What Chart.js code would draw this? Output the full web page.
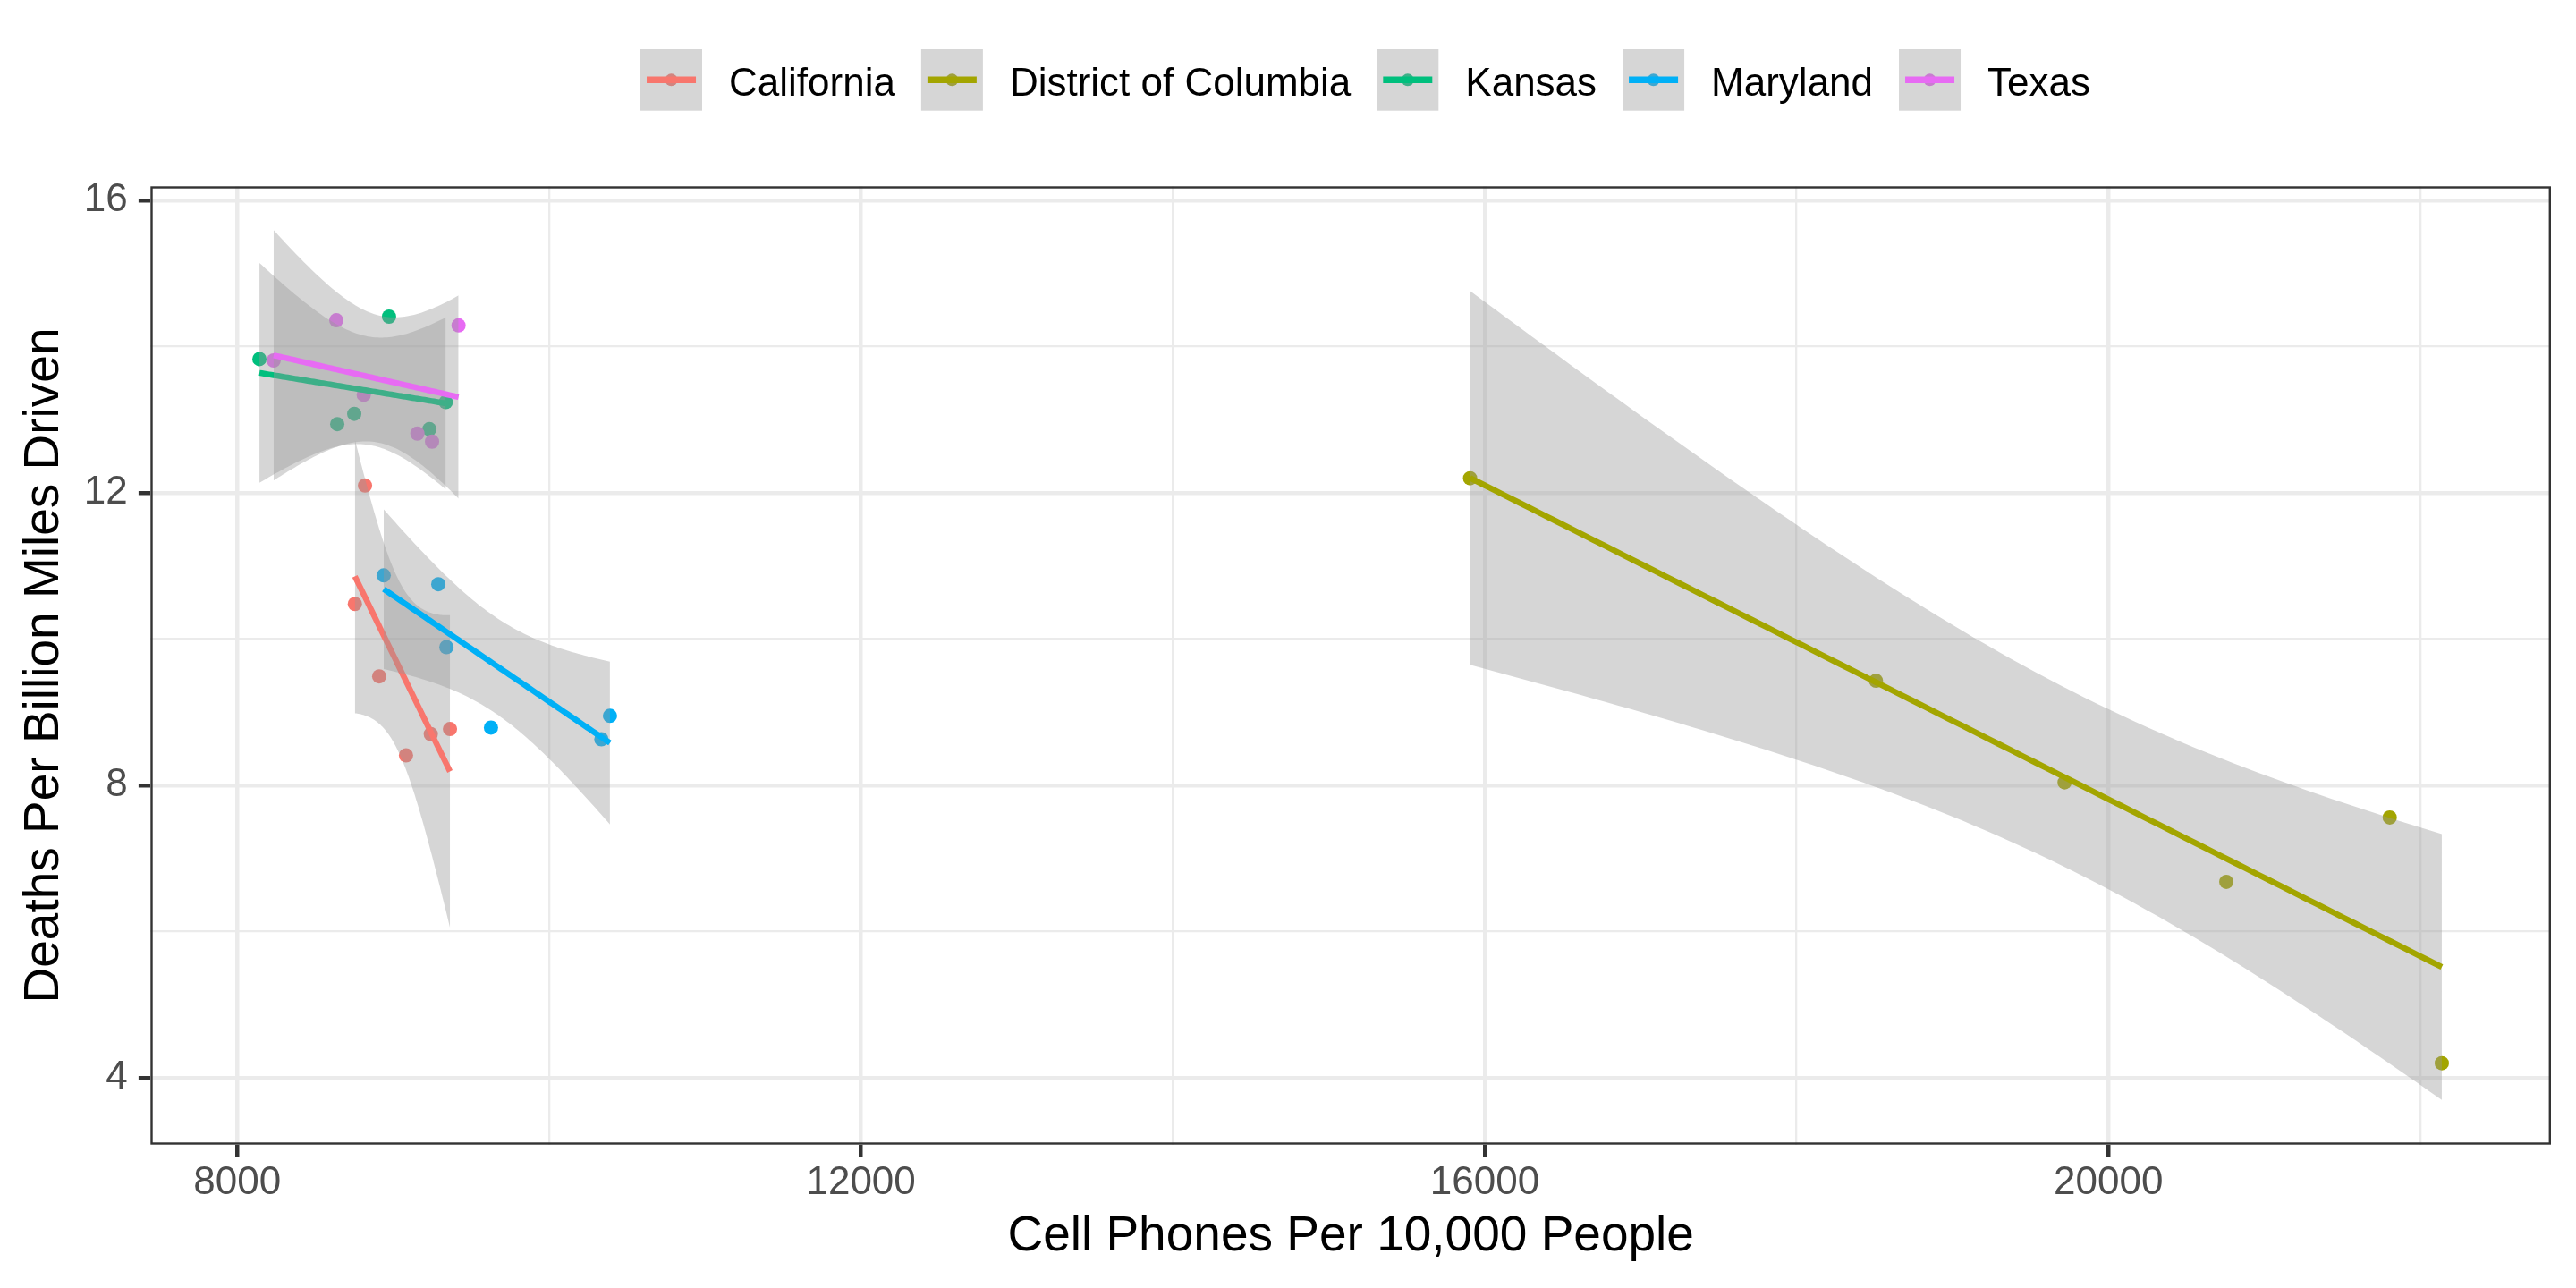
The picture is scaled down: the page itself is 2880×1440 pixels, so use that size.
<!DOCTYPE html>
<html>
<head>
<meta charset="utf-8">
<script src="https://cdn.jsdelivr.net/npm/chart.js@4/dist/chart.umd.min.js"></script>
<style>
  html, body { margin: 0; padding: 0; background: #ffffff; }
  #wrap { width: 2880px; height: 1440px; }
  canvas { display: block; }
</style>
</head>
<body>
<div id="wrap"><canvas id="chart" width="2880" height="1440"></canvas></div>
<script>
// ---------------- data ----------------
const SERIES = ['California', 'District of Columbia', 'Kansas', 'Maryland', 'Texas'];
const COLORS = ['#F8766D', '#A3A500', '#00BF7D', '#00B0F6', '#E76BF3'];

const CA_X = [8754, 8819, 8910, 9082, 9241, 9364];
const CA_Y = [10.48, 12.10, 9.49, 8.41, 8.70, 8.77];

const DC_X = [15906, 18509, 19719, 20756, 21804, 22138];
const DC_Y = [12.20, 9.43, 8.04, 6.68, 7.56, 4.20];

const KS_X = [8142, 8641, 8750, 8973, 9232, 9337];
const KS_Y = [13.83, 12.94, 13.08, 14.41, 12.87, 13.24];

const MD_X = [8939, 9289, 9341, 9627, 10335, 10390];
const MD_Y = [10.87, 10.75, 9.89, 8.79, 8.63, 8.95];

const TX_X = [8233, 8635, 8811, 9155, 9249, 9419];
const TX_Y = [13.81, 14.36, 13.34, 12.81, 12.70, 14.29];

const X_TICKS = [8000, 12000, 16000, 20000];
const X_MINOR = [10000, 14000, 18000, 22000];
const Y_TICKS = [4, 8, 12, 16];
const Y_MINOR = [6, 10, 14];

const X_TITLE = 'Cell Phones Per 10,000 People';
const Y_TITLE = 'Deaths Per Billion Miles Driven';

// ---------------- geom_smooth(method = "lm") equivalent ----------------
const T_975 = { 4: 2.776445 };   // Student t quantile, 95% band
function lmSmooth(xs, ys, nEval) {
  const m = xs.length;
  const mx = xs.reduce((a, b) => a + b, 0) / m;
  const my = ys.reduce((a, b) => a + b, 0) / m;
  let sxx = 0, sxy = 0;
  for (let i = 0; i < m; i++) { sxx += (xs[i] - mx) ** 2; sxy += (xs[i] - mx) * (ys[i] - my); }
  const b = sxy / sxx, a = my - b * mx;
  let sse = 0;
  for (let i = 0; i < m; i++) { const r = ys[i] - (a + b * xs[i]); sse += r * r; }
  const s = Math.sqrt(sse / (m - 2));
  const t = T_975[m - 2];
  const lo = Math.min(...xs), hi = Math.max(...xs);
  const fit = [], upper = [], lower = [];
  for (let k = 0; k < nEval; k++) {
    const x = lo + (hi - lo) * k / (nEval - 1);
    const yh = a + b * x;
    const se = s * Math.sqrt(1 / m + (x - mx) ** 2 / sxx);
    fit.push({ x, y: yh });
    upper.push({ x, y: yh + t * se });
    lower.push({ x, y: yh - t * se });
  }
  return { fit, upper, lower };
}

// ---------------- layout constants ----------------
const FONT = '"Liberation Sans", Arial, Helvetica, sans-serif';
const AREA = { left: 168.3, top: 208.3, right: 2852, bottom: 1279.7 };
const X_MIN = 7443.6, X_MAX = 22838;
const Y_MIN = 3.086, Y_MAX = 16.192;
const LINE_W = 6.5, PT_R = 8;
const RIBBON = 'rgba(153,153,153,0.4)';

const GROUP_X = [CA_X, DC_X, KS_X, MD_X, TX_X];
const GROUP_Y = [CA_Y, DC_Y, KS_Y, MD_Y, TX_Y];

// ---------------- datasets (ggplot draw order) ----------------
const datasets = [];
let drawSeq = 0;
SERIES.forEach((name, g) => {
  datasets.push({
    label: name,
    data: GROUP_X[g].map((x, i) => ({ x, y: GROUP_Y[g][i] })),
    showLine: false,
    pointRadius: PT_R, pointHoverRadius: PT_R,
    pointBackgroundColor: COLORS[g], pointBorderColor: COLORS[g], pointBorderWidth: 0,
    order: 1000 - (drawSeq++)
  });
});
SERIES.forEach((name, g) => {
  const sm = lmSmooth(GROUP_X[g], GROUP_Y[g], 80);
  datasets.push({
    label: name + ' upper', data: sm.upper, fill: '+1',
    backgroundColor: RIBBON, borderColor: 'rgba(0,0,0,0)', borderWidth: 0,
    pointRadius: 0, pointHoverRadius: 0, tension: 0, order: 1000 - (drawSeq++)
  });
  datasets.push({
    label: name + ' lower', data: sm.lower, fill: false,
    backgroundColor: 'rgba(0,0,0,0)', borderColor: 'rgba(0,0,0,0)', borderWidth: 0,
    pointRadius: 0, pointHoverRadius: 0, tension: 0, order: 1000 - (drawSeq++)
  });
  datasets.push({
    label: name + ' fit', data: sm.fit, fill: false,
    borderColor: COLORS[g], borderWidth: LINE_W, borderCapStyle: 'butt',
    pointRadius: 0, pointHoverRadius: 0, tension: 0, order: 1000 - (drawSeq++)
  });
});

// ---------------- plugins ----------------
const bgPlugin = {
  id: 'bg',
  beforeDraw(chart) {
    const c = chart.ctx; c.save(); c.fillStyle = '#ffffff';
    c.fillRect(0, 0, chart.width, chart.height); c.restore();
  }
};
const borderPlugin = {
  id: 'panelBorder',
  afterDatasetsDraw(chart) {
    const a = chart.chartArea, c = chart.ctx, w = 2.4;
    c.save(); c.strokeStyle = '#333333'; c.lineWidth = w;
    c.strokeRect(a.left + w / 2, a.top + w / 2, a.right - a.left - w, a.bottom - a.top - w);
    c.restore();
  }
};
function mixGrey(hex) {
  const r = parseInt(hex.slice(1, 3), 16), g = parseInt(hex.slice(3, 5), 16), b = parseInt(hex.slice(5, 7), 16);
  const f = v => Math.round(v * 0.6 + 153 * 0.4);
  return 'rgb(' + f(r) + ',' + f(g) + ',' + f(b) + ')';
}
const legendPlugin = {
  id: 'ggLegend',
  afterDraw(chart) {
    const c = chart.ctx;
    c.save();
    c.font = '44px ' + FONT;
    const KEY = 69, KEY_TOP = 55, KEY_H = 68.7, GAP_KT = 30, GAP_TK = 29, CENTER = 1526.5;
    const widths = SERIES.map(s => c.measureText(s).width);
    const total = widths.reduce((acc, w) => acc + KEY + GAP_KT + w, 0) + GAP_TK * (SERIES.length - 1);
    let x = CENTER - total / 2;
    const cy = KEY_TOP + KEY_H / 2;
    SERIES.forEach((s, i) => {
      c.fillStyle = '#D6D6D6';
      c.fillRect(x, KEY_TOP, KEY, KEY_H);
      c.fillStyle = mixGrey(COLORS[i]);
      c.beginPath(); c.arc(x + KEY / 2, cy, 7, 0, Math.PI * 2); c.fill();
      c.strokeStyle = COLORS[i]; c.lineWidth = 7.5; c.lineCap = 'butt';
      c.beginPath(); c.moveTo(x + 7, cy); c.lineTo(x + KEY - 7, cy); c.stroke();
      c.fillStyle = '#000000'; c.textAlign = 'left'; c.textBaseline = 'alphabetic';
      c.fillText(s, x + KEY + GAP_KT, 107.3);
      x += KEY + GAP_KT + widths[i] + GAP_TK;
    });
    c.restore();
  }
};

// ---------------- chart ----------------
const isXMajor = v => X_TICKS.includes(v);
const isYMajor = v => Y_TICKS.includes(v);

new Chart(document.getElementById('chart'), {
  type: 'line',
  data: { datasets },
  options: {
    responsive: false,
    devicePixelRatio: 1,
    animation: false,
    events: [],
    layout: { padding: { top: AREA.top, right: 2880 - AREA.right, left: 0, bottom: 0 } },
    plugins: { legend: { display: false }, tooltip: { enabled: false }, title: { display: false } },
    scales: {
      x: {
        type: 'linear', position: 'bottom', min: X_MIN, max: X_MAX,
        afterBuildTicks: s => { s.ticks = [...X_TICKS, ...X_MINOR].sort((a, b) => a - b).map(v => ({ value: v })); },
        afterFit: s => { s.height = 1440 - AREA.bottom; },
        ticks: {
          callback: v => isXMajor(v) ? String(v) : '',
          font: { family: FONT, size: 44 }, color: '#4D4D4D',
          padding: 2.9, maxRotation: 0, minRotation: 0, autoSkip: false
        },
        grid: {
          color: '#EBEBEB',
          lineWidth: ctx => (ctx.tick && isXMajor(ctx.tick.value)) ? 4.5 : 2.3,
          drawTicks: true, tickLength: 13.4, tickWidth: 4.5,
          tickColor: ctx => (ctx.tick && isXMajor(ctx.tick.value)) ? '#333333' : 'rgba(0,0,0,0)'
        },
        border: { display: false },
        title: {
          display: true, text: X_TITLE, color: '#000000',
          font: { family: FONT, size: 55 }, padding: { top: 0, bottom: 24.4 }
        }
      },
      y: {
        type: 'linear', position: 'left', min: Y_MIN, max: Y_MAX,
        afterBuildTicks: s => { s.ticks = [...Y_TICKS, ...Y_MINOR].sort((a, b) => a - b).map(v => ({ value: v })); },
        afterFit: s => { s.width = AREA.left; },
        ticks: {
          callback: v => isYMajor(v) ? String(v) : '',
          font: { family: FONT, size: 44 }, color: '#4D4D4D',
          padding: 12.2, autoSkip: false
        },
        grid: {
          color: '#EBEBEB',
          lineWidth: ctx => (ctx.tick && isYMajor(ctx.tick.value)) ? 4.5 : 2.3,
          drawTicks: true, tickLength: 13.4, tickWidth: 4.5,
          tickColor: ctx => (ctx.tick && isYMajor(ctx.tick.value)) ? '#333333' : 'rgba(0,0,0,0)'
        },
        border: { display: false },
        title: {
          display: true, text: Y_TITLE, color: '#000000',
          font: { family: FONT, size: 55 }, padding: { top: 17.2, bottom: 0 }
        }
      }
    }
  },
  plugins: [bgPlugin, borderPlugin, legendPlugin]
});
</script>
</body>
</html>
